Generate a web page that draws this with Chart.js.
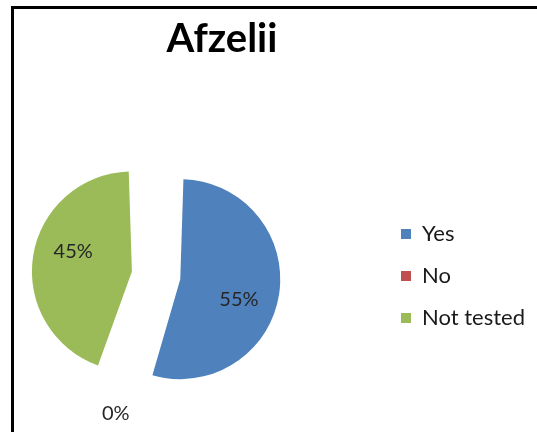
<!DOCTYPE html>
<html>
<head>
<meta charset="utf-8">
<title>Afzelii</title>
<script src="https://cdn.jsdelivr.net/npm/chart.js@4.4.1/dist/chart.umd.min.js"></script>
<style>
  html, body { margin: 0; padding: 0; background: #fff; overflow: hidden; }
  /* black rule along the top and left edge of the sheet */
  .frame {
    position: absolute; left: 11px; top: 6px; right: -10px; bottom: -10px;
    border-top: 3px solid #000; border-left: 3px solid #000;
  }
  /* canvas hangs 60px past the left edge so the pie sits left of the legend gap */
  #pieChart { position: absolute; left: -60px; top: 0; }
</style>
</head>
<body>
<div class="frame"></div>
<canvas id="pieChart" width="597" height="432"></canvas>
<script>
const chartTitle = 'Afzelii';
const categories = ['Yes', 'No', 'Not tested'];
const shares = [55, 0, 45];
const sliceColors = ['#4F81BD', '#C0504D', '#9BBB59'];

// how far every slice is pulled out of the pie, in px
const explode = 20;
// inside labels sit a little clockwise of the slice middle
const labelTurn = 0.17;

// Chart.js moves an arc by offset/4 and also grows its radius by
// offset/4 * (1 - sin(sweep)), so size the offset to grow every slice evenly
function sliceOffset(ctx) {
    if (ctx.type !== 'data') return 0;
    const total = shares.reduce((a, b) => a + b, 0);
    const sweep = 2 * Math.PI * ctx.raw / total;
    return 4 * explode / (1 - Math.sin(Math.min(Math.PI, sweep)));
}

// Percent labels: inside each slice, outside the pie for empty ones
const sliceLabels = {
    id: 'sliceLabels',
    afterDatasetsDraw(chart) {
        const ctx = chart.ctx;
        const meta = chart.getDatasetMeta(0);
        const values = chart.data.datasets[0].data;
        const total = values.reduce((a, b) => a + b, 0);
        ctx.save();
        ctx.font = '20px Lato';
        ctx.fillStyle = '#262626';
        ctx.textAlign = 'center';
        ctx.textBaseline = 'middle';
        meta.data.forEach((arc, i) => {
            const {x, y, startAngle, endAngle, outerRadius} =
                arc.getProps(['x', 'y', 'startAngle', 'endAngle', 'outerRadius']);
            const mid = (startAngle + endAngle) / 2;
            const shift = (arc.options.offset || 0) / 4;
            const grow = shift * (1 - Math.sin(Math.min(Math.PI, endAngle - startAngle)));
            const r = outerRadius + grow;
            const text = Math.round(values[i] / total * 100) + '%';
            if (values[i] > 0) {
                // from the slice's own tip, not the pie centre
                const tipX = x + Math.cos(mid) * shift;
                const tipY = y + Math.sin(mid) * shift;
                const a = mid + labelTurn;
                ctx.fillText(text, tipX + Math.cos(a) * r * 0.62, tipY + Math.sin(a) * r * 0.62);
            } else {
                ctx.fillText(text, x + Math.cos(mid) * (r + 45), y + Math.sin(mid) * (r + 45));
            }
        });
        ctx.restore();
    }
};

// Heading sits over the pie, not over the whole canvas
const chartHeading = {
    id: 'chartHeading',
    afterDraw(chart) {
        const ctx = chart.ctx;
        ctx.save();
        ctx.font = 'bold 40px Lato';
        ctx.fillStyle = '#000';
        ctx.textAlign = 'center';
        ctx.fillText(chartTitle, 282, 52);
        ctx.restore();
    }
};

new Chart(document.getElementById('pieChart'), {
    type: 'pie',
    data: {
        labels: categories,
        datasets: [{
            data: shares,
            backgroundColor: sliceColors,
            borderWidth: 0,
            radius: 80,
            offset: sliceOffset
        }]
    },
    options: {
        responsive: false,
        animation: false,
        layout: {
            padding: { top: 120, left: 0, right: 2, bottom: 0 }
        },
        plugins: {
            legend: {
                position: 'right',
                labels: {
                    font: { family: 'Lato', size: 22 },
                    color: '#1a1a1a',
                    boxWidth: 10,
                    boxHeight: 10,
                    padding: 20
                }
            },
            tooltip: { enabled: false }
        }
    },
    plugins: [sliceLabels, chartHeading]
});
</script>
</body>
</html>
